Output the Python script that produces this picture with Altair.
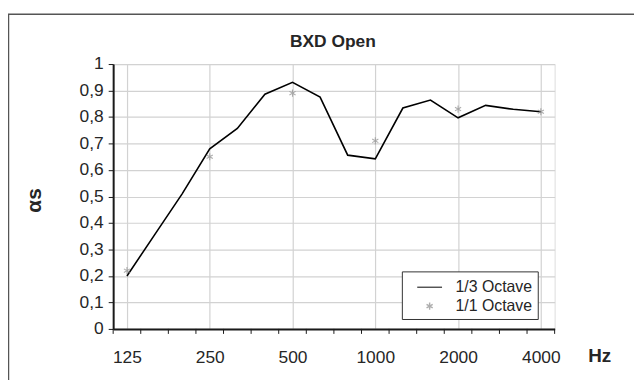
import json
import altair as alt
import pandas as pd

# --- data ---
freqs = ["125", "160", "200", "250", "315", "400", "500", "630", "800",
         "1000", "1250", "1600", "2000", "2500", "3150", "4000"]
third_octave = [0.20, 0.355, 0.51, 0.68, 0.757, 0.886, 0.931, 0.875, 0.656,
                0.642, 0.834, 0.864, 0.797, 0.844, 0.829, 0.82]
octave_freqs = ["125", "250", "500", "1000", "2000", "4000"]
octave = [0.22, 0.65, 0.89, 0.71, 0.83, 0.82]
series_names = ["1/3 Octave", "1/1 Octave"]
y_ticks = [0, 0.1, 0.2, 0.3, 0.4, 0.5, 0.6, 0.7, 0.8, 0.9, 1.0]

FONT = "Liberation Sans, Arial, sans-serif"
TXT = "#262626"
W, H = 445, 267

line_df = pd.DataFrame({"idx": list(range(len(freqs))), "val": third_octave,
                        "series": series_names[0]})
oct_df = pd.DataFrame({"idx": [freqs.index(f) for f in octave_freqs],
                       "val": octave, "series": series_names[1]})
bounds_df = pd.DataFrame({"b": [i - 0.5 for i in range(len(freqs) + 1)]})
label_idx = [freqs.index(f) for f in octave_freqs]

xscale = alt.Scale(domain=[-0.5, len(freqs) - 0.5], nice=False, zero=False)
yscale = alt.Scale(domain=[0, 1], nice=False)

x_axis = alt.Axis(
    values=label_idx, ticks=False, grid=True, gridColor="#d2d2d2", gridWidth=1.2,
    labelExpr=f"{json.dumps(freqs)}[round(datum.value)]",
    labelFont=FONT, labelFontSize=17.5, labelColor=TXT, labelPadding=20,
    labelBaseline="top", labelOverlap=False,
    domainColor="#1a1a1a", domainWidth=2,
    title="Hz", titleFont=FONT, titleFontSize=19, titleFontWeight="bold",
    titleColor=TXT, titleX=490, titleY=33, titleAlign="center",
    titleBaseline="alphabetic",
)
y_axis = alt.Axis(
    values=y_ticks, grid=True, gridColor="#d2d2d2", gridWidth=1.2,
    tickSize=5, tickColor="#1a1a1a", labelPadding=5, labelOverlap=False,
    labelExpr="replace(format(datum.value, '.1~f'), '.', ',')",
    labelFont=FONT, labelFontSize=17.5, labelColor=TXT,
    domainColor="#1a1a1a", domainWidth=2,
    title="αs", titleFont=FONT, titleFontSize=21, titleColor=TXT,
    titleFontWeight="bold",
    titleX=-79, titleY=137, titleAlign="center", titleBaseline="middle",
    titleAngle=270,
)

X = alt.X("idx:Q", scale=xscale, axis=x_axis)
Y = alt.Y("val:Q", scale=yscale, axis=y_axis)

line = alt.Chart(line_df).mark_line(color="black", strokeWidth=1.6).encode(x=X, y=Y)

line_sym = "M-1.25,0H1.25"
star_sym = ("M0,-0.36V0.36M-0.31,-0.18L0.31,0.18M-0.31,0.18L0.31,-0.18")

legend = alt.Legend(title=None, orient="none", legendX=291,
                    legendY=209, padding=5, rowPadding=0,
                    symbolSize=400, symbolStrokeWidth=1.4,
                    labelFont=FONT, labelFontSize=16,
                    labelColor=TXT, labelOffset=15,
                    symbolOffset=12,
                    strokeColor="#333", fillColor="white")

points = alt.Chart(oct_df).mark_point(filled=False, size=400, strokeWidth=1.1).encode(
    x=X, y=Y,
    color=alt.Color("series:N",
                    scale=alt.Scale(domain=series_names, range=["black", "#8c8c8c"]),
                    legend=legend),
    shape=alt.Shape("series:N",
                    scale=alt.Scale(domain=series_names, range=[line_sym, star_sym]),
                    legend=legend),
)

ticks = alt.Chart(bounds_df).mark_rule(color="#1a1a1a", strokeWidth=1).encode(
    x=alt.X("b:Q", scale=xscale, axis=x_axis),
    y=alt.value(H), y2=alt.value(H + 5),
)

frame = alt.Chart(alt.Data(values=[{}])).mark_rect(
    fillOpacity=0, stroke="#555555", strokeWidth=1.5
).encode(x=alt.value(-105.5), x2=alt.value(700), y=alt.value(-50.3), y2=alt.value(500))

title = alt.Chart(alt.Data(values=[{}])).mark_text(
    text="BXD Open", font=FONT, fontSize=17.5, fontWeight="bold", color=TXT,
    align="center", baseline="alphabetic"
).encode(x=alt.value(W / 2 - 1), y=alt.value(-17))

chart = alt.layer(line, points, ticks, frame, title).properties(
    width=W, height=H,
    autosize=alt.AutoSizeParams(type="none"),
    padding={"left": 106, "top": 55, "right": 80, "bottom": 50},
).configure_view(stroke="#1a1a1a", strokeWidth=1.5).configure(background="white")

chart.save("out.html", embed_options={"renderer": "svg", "actions": False})
